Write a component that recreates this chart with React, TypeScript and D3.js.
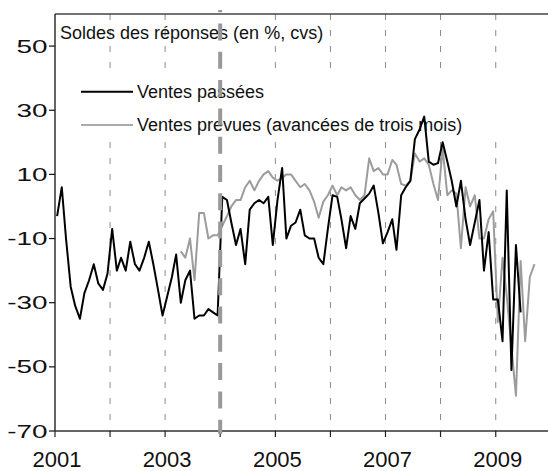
import * as d3 from "d3";

// Soldes des réponses (en %, cvs), monthly
const passeesStart = [2001, 0]; // Jan 2001
const ventesPassees = [
  -3, 6, -10, -25, -31, -35, -27, -23, -18, -24, -26, -21,
  -7, -20, -16, -20, -11, -18, -20, -16, -11, -18, -26, -34,
  -28, -22, -15, -30, -23, -20, -35, -34, -34, -32, -33, -34,
  3, 2, -5, -12, -7, -18, -1, 1, 2, 1, 3, -12,
  2, 12, -10, -6, -5, -1, -9, -10, -10, -16, -18, -7,
  3.5, 3, -4, -13, -3, -7, 1, 2.5, 4, 6.5, -2, -11.5,
  -8, -4, -13.5, 3.5, 6, 8, 21, 24, 28, 14, 13, 13.5,
  20, 14, 8, 0, 8, -4, -12, -5, 2, -20, -8, -29,
  -29, -42, 5, -51, -12, -33,
];

const prevuesStart = [2003, 3]; // Apr 2003
const ventesPrevues = [
  -14, -16, -10, -23, -2, -2, -10, -9, -9,
  -6, -3, 0, 2, 2, 6, 8, 5, 8, 10, 11, 9,
  8, 9, 10, 10, 8, 6, 7, 5, 1.5, -3.5, 1.5, 3.5,
  6.5, 3.5, 6, 5, 6, 3.5, 2, 3.5, 15, 11, 12, 10,
  10, 14.5, 13, 7, 6.5, 8, 16.5, 14, 15, 13, 7, 2,
  18, 3.5, 5, 4, -13, 6, 0, 3.5, -10, -10, -4, -1.5,
  -36, -16, -28, -44, -59, -17, -42, -22, -18,
];

const yearGrid = [2002, 2003, 2005, 2006, 2007, 2008, 2009];
const yearTicks = [2001, 2002, 2003, 2004, 2005, 2006, 2007, 2008, 2009];
const yearLabels = [2001, 2003, 2005, 2007, 2009];
const yTicks = [50, 30, 10, -10, -30, -50, -70];
const breakYear = 2004;

const legendItems = [
  { label: "Ventes passées", color: "#000" },
  { label: "Ventes prevues (avancées de trois mois)", color: "#aaa" },
];

type Pt = { date: Date; value: number };

const toPoints = (start: number[], values: number[]): Pt[] =>
  values.map((v, i) => ({
    date: new Date(start[0], start[1] + i, 15),
    value: v,
  }));

export default function App() {
  const width = 548;
  const height = 471;
  const left = 55;
  const top = 14;
  const bottom = 431;

  const x = d3
    .scaleTime()
    .domain([new Date(2001, 0, 1), new Date(2010, 0, 1)])
    .range([left, 550.8]);
  const y = d3.scaleLinear().domain([-70, 60]).range([bottom, top]);
  const yr = (yv: number) => x(new Date(yv, 0, 1));

  const line = d3
    .line<Pt>()
    .x((d) => x(d.date))
    .y((d) => y(d.value));

  const passees = toPoints(passeesStart, ventesPassees);
  const prevues = toPoints(prevuesStart, ventesPrevues);
  const font = "'Liberation Sans', Arial, sans-serif";

  return (
    <svg
      width={width}
      height={height}
      style={{ position: "absolute", left: 0, top: 0, background: "#fff" }}
      fontFamily={font}
    >
      {/* year grid */}
      {yearGrid.map((yv) => (
        <line
          key={yv}
          x1={yr(yv)}
          x2={yr(yv)}
          y1={top}
          y2={bottom}
          stroke="#8a8a8a"
          strokeWidth={1}
          strokeDasharray="6,10"
        />
      ))}

      {/* legend background hides grid */}
      <rect x={57} y={76} width={490} height={61} fill="#fff" />

      <text x={60} y={39} fontSize={18} fill="#111">
        Soldes des réponses (en %, cvs)
      </text>

      {legendItems.map((it, i) => (
        <g key={it.label}>
          <line
            x1={81}
            x2={133}
            y1={91.7 + i * 33.3}
            y2={91.7 + i * 33.3}
            stroke={it.color}
            strokeWidth={2}
          />
          <text x={137} y={97.5 + i * 33} fontSize={18} fill="#111">
            {it.label}
          </text>
        </g>
      ))}

      <path
        d={line(prevues) ?? ""}
        fill="none"
        stroke="#9c9c9c"
        strokeWidth={2}
        strokeLinejoin="round"
      />
      <path
        d={line(passees) ?? ""}
        fill="none"
        stroke="#000"
        strokeWidth={2}
        strokeLinejoin="round"
      />

      {/* frame and axes */}
      <line x1={left} x2={width} y1={top} y2={top} stroke="#444" strokeWidth={1.3} />
      <line x1={left} x2={left} y1={top} y2={bottom} stroke="#111" strokeWidth={1.3} />
      <line x1={left} x2={width} y1={bottom} y2={bottom} stroke="#333" strokeWidth={1.5} />

      {yTicks.map((t) => (
        <g key={t}>
          <line x1={left - 6} x2={left} y1={y(t)} y2={y(t)} stroke="#111" strokeWidth={1.2} />
          <g transform={`translate(47.5,${y(t) + 6.5}) scale(1.55,1)`}>
            <text textAnchor="end" fontSize={18} fill="#111">
              {t}
            </text>
          </g>
        </g>
      ))}

      {yearTicks.map((t) => (
        <line
          key={t}
          x1={yr(t)}
          x2={yr(t)}
          y1={bottom}
          y2={bottom + 6}
          stroke="#222"
          strokeWidth={1.2}
        />
      ))}
      {yearLabels.map((t) => (
        <text
          key={t}
          x={yr(t) + 2}
          y={467}
          textAnchor="middle"
          fontSize={22}
          fill="#111"
        >
          {t}
        </text>
      ))}

      {/* break in 2004 */}
      <line
        x1={yr(breakYear)}
        x2={yr(breakYear)}
        y1={10}
        y2={434}
        stroke="#999"
        strokeWidth={4}
        strokeDasharray="17,11.3"
        strokeDashoffset={14.8}
      />
    </svg>
  );
}
